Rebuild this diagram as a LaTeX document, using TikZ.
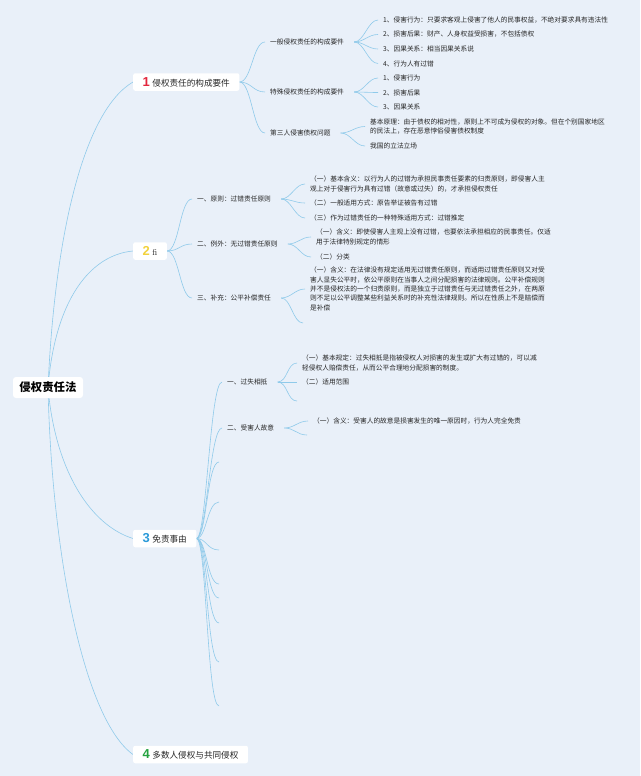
\documentclass[tikz,border=0pt]{standalone}
\usepackage{fontspec}
\newfontfamily\cjk{Noto Sans CJK SC}
\newfontfamily\numf{Liberation Sans}
\definecolor{bgc}{HTML}{E9F0F9}
\definecolor{linec}{HTML}{8FCAEA}
\definecolor{txt}{HTML}{262626}
\definecolor{cred}{HTML}{E3263D}
\definecolor{cyel}{HTML}{F2D23C}
\definecolor{cblue}{HTML}{2B9AD9}
\definecolor{cgreen}{HTML}{25A340}
\pgfdeclarelayer{bglayer}
\pgfdeclarelayer{edgelayer}
\pgfsetlayers{bglayer,edgelayer,main}
\newcommand\bignum[2]{{\numf\bfseries\fontsize{13}{13}\selectfont\color{#1}#2}\hspace{2.5pt}}
\begin{document}
\begin{tikzpicture}[x=1pt,y=-1pt,
  conn/.style={draw=linec, line width=0.6pt},
  rootbox/.style={fill=white, rounded corners=3pt, inner xsep=6.5pt, minimum height=21pt, font=\cjk\bfseries\fontsize{11.4}{12}\selectfont, text=black},
  mainbox/.style={fill=white, rounded corners=2pt, inner xsep=9.5pt, minimum height=17.5pt, font=\cjk\fontsize{8.6}{10}\selectfont, text=txt, anchor=west},
  subnode/.style={inner xsep=5pt, inner ysep=1pt, font=\cjk\fontsize{6.7}{9.6}\selectfont, text=txt, anchor=west},
  leaf/.style={inner xsep=5pt, inner ysep=1pt, font=\cjk\fontsize{6.7}{9.6}\selectfont, text=txt, anchor=west, align=left},
]
\begin{pgfonlayer}{bglayer}
\fill[bgc] (0,0) rectangle (640,776);
\end{pgfonlayer}
\useasboundingbox (0,0) rectangle (640,776);

% root and main branches
\node[rootbox] (root) at (48,387.5) {侵权责任法};
\node[mainbox] (n1) at (133,82) {\bignum{cred}{1}侵权责任的构成要件};
\node[mainbox] (n2) at (133,251) {\bignum{cyel}{2}{\rmfamily fi}};
\node[mainbox] (n3) at (133,538.5) {\bignum{cblue}{3}免责事由};
\node[mainbox] (n4) at (133,754.5) {\bignum{cgreen}{4}多数人侵权与共同侵权};

% branch 1
\node[subnode] (a1) at (265,42) {一般侵权责任的构成要件};
\node[subnode] (a2) at (265,92) {特殊侵权责任的构成要件};
\node[subnode] (a3) at (265,133) {第三人侵害债权问题};
\node[leaf] (a11) at (378,20) {1、侵害行为：只要求客观上侵害了他人的民事权益，不绝对要求具有违法性};
\node[leaf] (a12) at (378,34.5) {2、损害后果：财产、人身权益受损害，不包括债权};
\node[leaf] (a13) at (378,49) {3、因果关系：相当因果关系说};
\node[leaf] (a14) at (378,63.5) {4、行为人有过错};
\node[leaf] (a21) at (378,78) {1、侵害行为};
\node[leaf] (a22) at (378,92.5) {2、损害后果};
\node[leaf] (a23) at (378,107) {3、因果关系};
\node[leaf] (a31) at (365,126.5) {基本原理：由于债权的相对性，原则上不可成为侵权的对象。但在个别国家地区\\的民法上，存在恶意悖俗侵害债权制度};
\node[leaf] (a32) at (365,146) {我国的立法立场};

% branch 2
\node[subnode] (b1) at (192,199) {一、原则：过错责任原则};
\node[subnode] (b2) at (192,244) {二、例外：无过错责任原则};
\node[subnode] (b3) at (192,298) {三、补充：公平补偿责任};
\node[leaf] (b11) at (305,184) {（一）基本含义：以行为人的过错为承担民事责任要素的归责原则，即侵害人主\\观上对于侵害行为具有过错（故意或过失）的，才承担侵权责任};
\node[leaf] (b12) at (305,203) {（二）一般适用方式：原告举证被告有过错};
\node[leaf] (b13) at (305,218) {（三）作为过错责任的一种特殊适用方式：过错推定};
\node[leaf] (b21) at (311,237) {（一）含义：即使侵害人主观上没有过错，也要依法承担相应的民事责任。仅适\\用于法律特别规定的情形};
\node[leaf] (b22) at (311,257) {（二）分类};
\node[leaf, font=\cjk\fontsize{6.7}{9.3}\selectfont] (b31) at (305,289) {（一）含义：在法律没有规定适用无过错责任原则，而适用过错责任原则又对受\\害人显失公平时，依公平原则在当事人之间分配损害的法律规则。公平补偿规则\\并不是侵权法的一个归责原则，而是独立于过错责任与无过错责任之外，在两原\\则不足以公平调整某些利益关系时的补充性法律规则。所以在性质上不是赔偿而\\是补偿};
\coordinate (b32) at (303,323);

% branch 3
\node[subnode] (c1) at (222,382) {一、过失相抵};
\node[subnode] (c2) at (222,428) {二、受害人故意};
\node[leaf] (c11) at (297,363) {（一）基本规定：过失相抵是指被侵权人对损害的发生或扩大有过错的，可以减\\轻侵权人赔偿责任，从而公平合理地分配损害的制度。};
\node[leaf] (c12) at (297,382) {（二）适用范围};
\coordinate (c13) at (297,401);
\node[leaf] (c21) at (308,421) {（一）含义：受害人的故意是损害发生的唯一原因时，行为人完全免责};
\coordinate (c22) at (307,435);
\foreach \i/\y in {1/462,2/502,3/550,4/584,5/598,6/623,7/662,8/706}
  \coordinate (e\i) at (219,\y);

\begin{pgfonlayer}{edgelayer}
% root connectors
\draw[conn] (root.center) .. controls (55,230) and (85,110) .. (n1.west);
\draw[conn] (root.center) .. controls (55,300) and (90,255) .. (n2.west);
\draw[conn] (root.center) .. controls (55,470) and (90,525) .. (n3.west);
\draw[conn] (root.center) .. controls (52,560) and (85,720) .. (n4.west);
% level 2
\foreach \t in {a1,a2,a3}
  \draw[conn] (n1.east) .. controls +(12,0) and +(-12,0) .. (\t.west);
\foreach \t in {b1,b2,b3}
  \draw[conn] (n2.east) .. controls +(12,0) and +(-12,0) .. (\t.west);
\foreach \t in {c1,c2}
  \draw[conn] (n3.east) .. controls +(10,0) and +(-12,0) .. (\t.west);
\foreach \t in {e1,e2,e3,e4,e5,e6,e7,e8}
  \draw[conn] (n3.east) .. controls +(10,0) and +(-12,0) .. (\t);
% level 3 fans
\foreach \t in {a11,a12,a13,a14}
  \draw[conn] ([xshift=5pt]a1.east) .. controls +(10,0) and +(-10,0) .. (\t.west);
\foreach \t in {a21,a22,a23}
  \draw[conn] ([xshift=5pt]a2.east) .. controls +(10,0) and +(-10,0) .. (\t.west);
\foreach \t in {a31,a32}
  \draw[conn] ([xshift=5pt]a3.east) .. controls +(10,0) and +(-10,0) .. (\t.west);
\foreach \t in {b11,b12,b13}
  \draw[conn] ([xshift=5pt]b1.east) .. controls +(10,0) and +(-10,0) .. (\t.west);
\foreach \t in {b21,b22}
  \draw[conn] ([xshift=5pt]b2.east) .. controls +(10,0) and +(-10,0) .. (\t.west);
\draw[conn] ([xshift=5pt]b3.east) .. controls +(10,0) and +(-10,0) .. (b31.west);
\draw[conn] ([xshift=5pt]b3.east) .. controls +(10,0) and +(-10,0) .. (b32);
\foreach \t in {c11,c12}
  \draw[conn] ([xshift=5pt]c1.east) .. controls +(10,0) and +(-10,0) .. (\t.west);
\draw[conn] ([xshift=5pt]c1.east) .. controls +(10,0) and +(-10,0) .. (c13);
\draw[conn] ([xshift=5pt]c2.east) .. controls +(10,0) and +(-10,0) .. (c21.west);
\draw[conn] ([xshift=5pt]c2.east) .. controls +(10,0) and +(-10,0) .. (c22);
\end{pgfonlayer}
\end{tikzpicture}
\end{document}
